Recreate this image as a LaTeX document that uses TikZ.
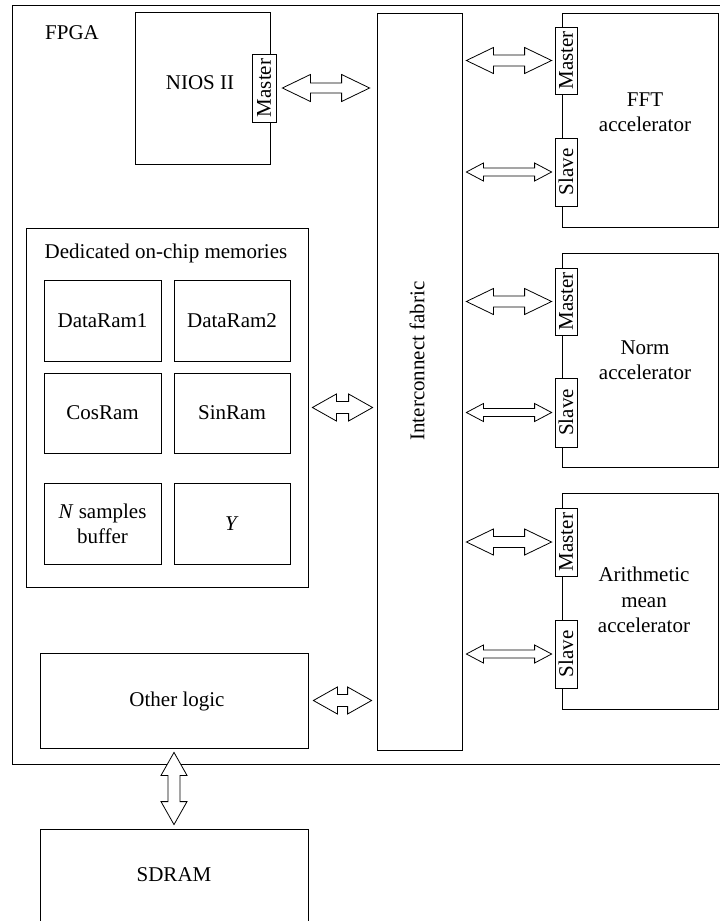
\documentclass[tikz,border=0pt]{standalone}
\usepackage{fontspec}
\setmainfont{Liberation Serif}
\usetikzlibrary{calc}
\tikzset{
  every node/.style={font=\fontsize{21}{25.5}\selectfont},
  box/.style={draw, line width=0.8pt, inner sep=0pt},
  port/.style={draw, fill=white, line width=0.8pt, inner sep=0pt, minimum width=22, minimum height=67},
  lbl/.style={inner sep=0pt, align=center},
  barrow/.style={draw, fill=white, line width=0.8pt, line join=miter},
}
\newcommand\harr[5]{%
  \draw[barrow] (#1) -- ++(#3,-#4) -- ++(0,{#4-#5}) -- ($(#2)+(-#3,-#5)$) -- ++(0,{#5-#4}) -- (#2)
    -- ++(-#3,#4) -- ++(0,{#5-#4}) -- ($(#1)+(#3,#5)$) -- ++(0,{#4-#5}) -- cycle;}
\newcommand\varr[5]{%
  \draw[barrow] (#1) -- ++(-#4,#3) -- ++({#4-#5},0) -- ($(#2)+(-#5,-#3)$) -- ++({#5-#4},0) -- (#2)
    -- ++(#4,-#3) -- ++({#5-#4},0) -- ($(#1)+(#5,#3)$) -- ++({#4-#5},0) -- cycle;}
\begin{document}
\begin{tikzpicture}[x=1pt, y=-1pt]
\useasboundingbox (0,0) rectangle (720,921);
\clip (0,0) rectangle (720,921);
% FPGA frame
\node[box, minimum width=711, minimum height=759] (fpga) at (367.5,384.5) {};
\node[lbl] (fpgat) at (72,33) {FPGA};
% NIOS
\node[box, minimum width=135, minimum height=152] (nios) at (202.5,88) {};
\node[lbl] (niost) at (200,83) {NIOS II};
\node[port, minimum width=24, minimum height=68] (nm) at (264,88) {\rotatebox{90}{Master}};
% Interconnect
\node[box, minimum width=85, minimum height=737] (ic) at (419.5,381.5) {};
\node[lbl, rotate=90] (ict) at (417,361) {Interconnect fabric};
% Accelerators
\node[box, minimum width=156, minimum height=214] (fft) at (640,120) {};
\node[lbl] (fftt) at (645,112) {FFT\\accelerator};
\node[port] (fm) at (566,60.5) {\rotatebox{90}{Master}};
\node[port, minimum height=68] (fs) at (566,172) {\rotatebox{90}{Slave}};
\node[box, minimum width=156, minimum height=214] (norm) at (640,360) {};
\node[lbl] (normt) at (645,360) {Norm\\accelerator};
\node[port] (nom) at (566,301.5) {\rotatebox{90}{Master}};
\node[port, minimum height=69] (nos) at (566,412.5) {\rotatebox{90}{Slave}};
\node[box, minimum width=156, minimum height=216] (arith) at (640,601) {};
\node[lbl] (aritht) at (644,600) {Arithmetic\\mean\\accelerator};
\node[port, minimum height=68] (am) at (566,542) {\rotatebox{90}{Master}};
\node[port, minimum height=68] (as) at (566,654) {\rotatebox{90}{Slave}};
% Memories
\node[box, minimum width=282, minimum height=359] (mem) at (167,407.5) {};
\node[lbl] (memt) at (166,253) {Dedicated on-chip memories};
\node[box, minimum width=117, minimum height=81] (dr1) at (102.5,320.5) {DataRam1};
\node[box, minimum width=116, minimum height=81] (dr2) at (232,320.5) {DataRam2};
\node[box, minimum width=117, minimum height=80] (cos) at (102.5,413) {CosRam};
\node[box, minimum width=116, minimum height=80] (sin) at (232,413) {SinRam};
\node[box, minimum width=117, minimum height=81, align=center] (nb) at (102.5,524) {\textit{N} samples\\buffer};
\node[box, minimum width=116, minimum height=81] (yb) at (232,524) {\textit{Y}};
% Other logic and SDRAM
\node[box, minimum width=268, minimum height=95] (other) at (174,700.5) {};
\node[lbl] (othert) at (177,701) {Other logic};
\node[box, minimum width=268, minimum height=120] (sdram) at (174,889) {};
\node[lbl] (sdramt) at (174,875) {SDRAM};
% Arrow end points
\coordinate (a1) at ($(nm.east)+(6,0)$);
\coordinate (b1) at ($(ic.west |- nm.east)+(-7,0)$);
\coordinate (a2) at ($(ic.east |- fm.west)+(4,0)$);
\coordinate (b2) at ($(fm.west)+(-3,0)$);
\coordinate (a3) at ($(ic.east |- fs.west)+(4,0)$);
\coordinate (b3) at ($(fs.west)+(-3,0)$);
\coordinate (a4) at ($(ic.east |- nom.west)+(4,0)$);
\coordinate (b4) at ($(nom.west)+(-3,0)$);
\coordinate (a5) at ($(ic.east |- nos.west)+(4,0)$);
\coordinate (b5) at ($(nos.west)+(-3,0)$);
\coordinate (a6) at ($(ic.east |- am.west)+(4,0)$);
\coordinate (b6) at ($(am.west)+(-3,0)$);
\coordinate (a7) at ($(ic.east |- as.west)+(4,0)$);
\coordinate (b7) at ($(as.west)+(-3,0)$);
\coordinate (a8) at ($(mem.east)+(4,0)$);
\coordinate (b8) at ($(ic.west |- mem.east)+(-4,0)$);
\coordinate (a9) at ($(other.east)+(5,0)$);
\coordinate (b9) at ($(ic.west |- other.east)+(-5,0)$);
\coordinate (a10) at ($(other.south)+(0,4)$);
\coordinate (b10) at ($(sdram.north)+(0,-4)$);
% Arrows
\harr{a1}{b1}{28}{13.5}{5}
\harr{a2}{b2}{27}{13}{5.5}
\harr{a3}{b3}{17}{9}{4}
\harr{a4}{b4}{27}{13}{5.5}
\harr{a5}{b5}{17}{9}{4}
\harr{a6}{b6}{27}{13}{5.5}
\harr{a7}{b7}{17}{9}{4}
\harr{a8}{b8}{24}{13.5}{6}
\harr{a9}{b9}{24}{13.5}{6}
\varr{a10}{b10}{23}{13}{6}
\end{tikzpicture}
\end{document}
